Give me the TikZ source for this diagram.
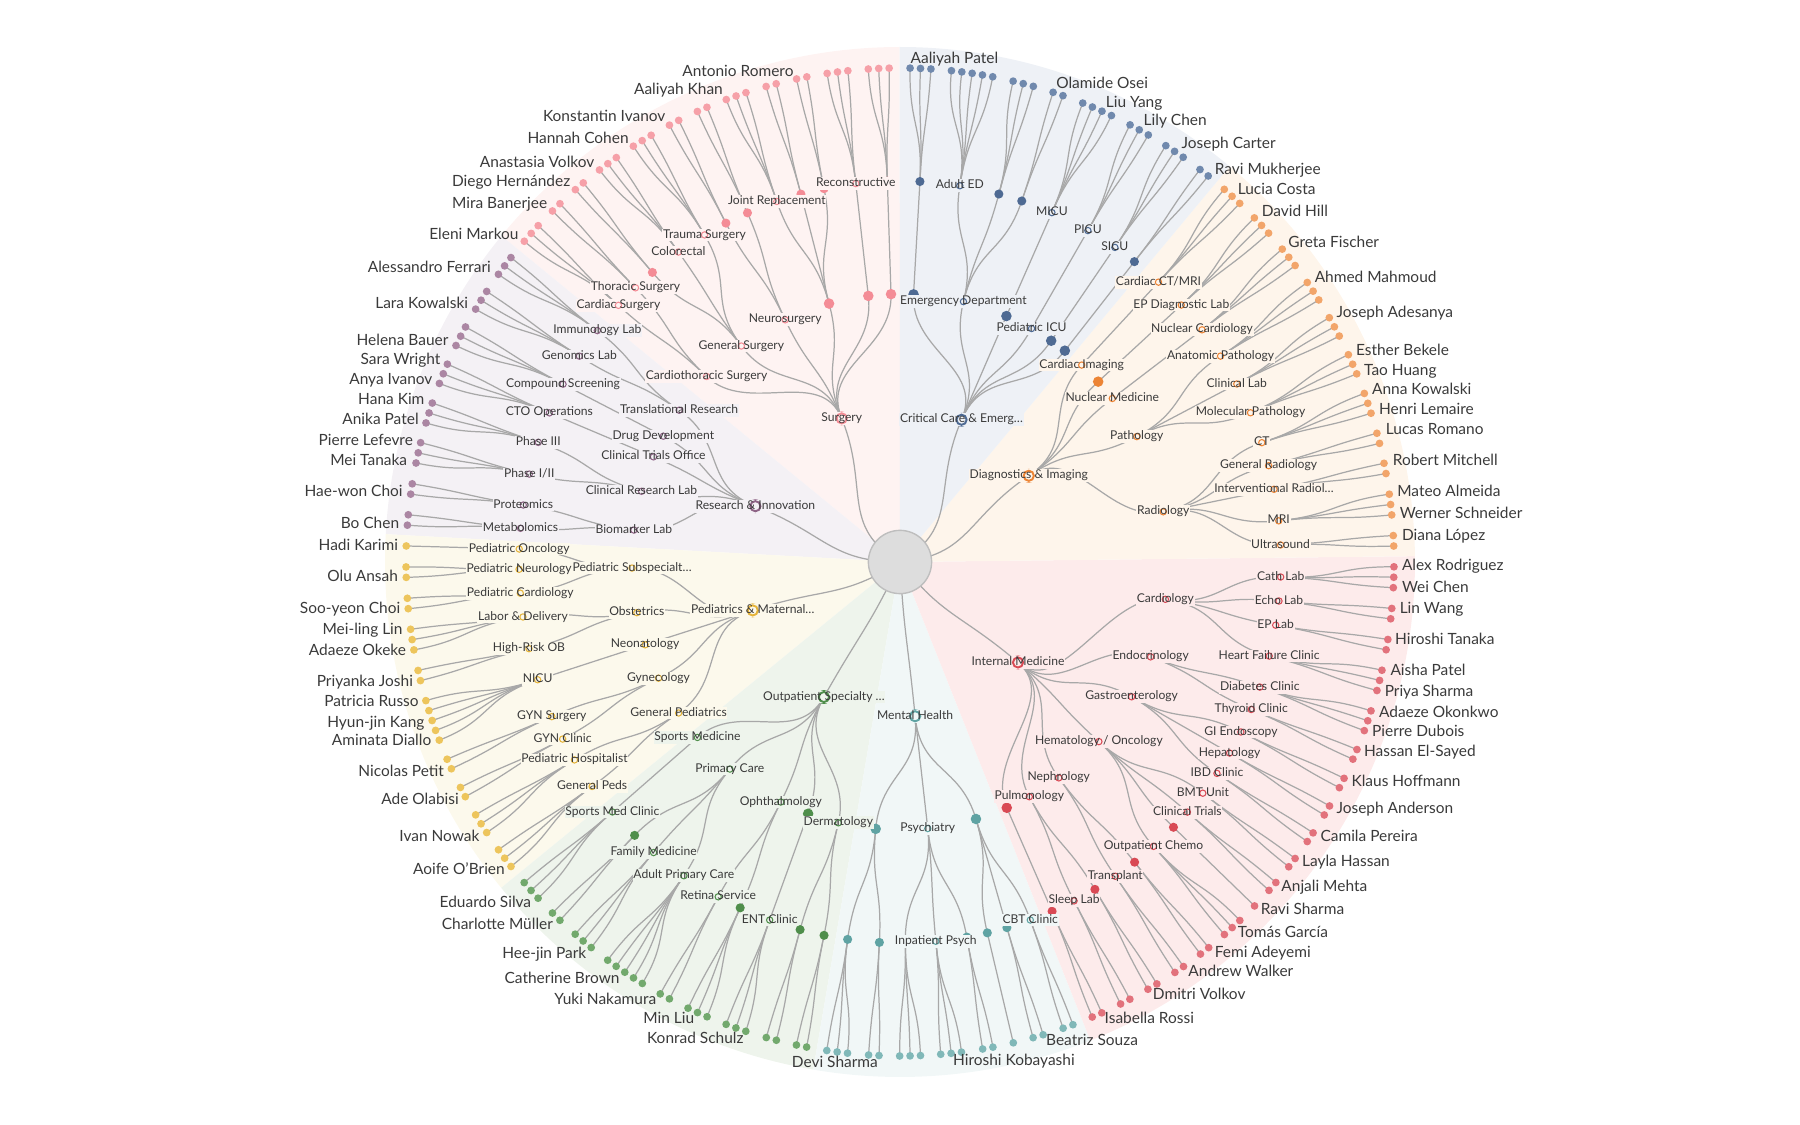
\documentclass[tikz,border=0pt]{standalone}
\usepackage{fontspec}
\setmainfont{Lato}
\usepackage{xcolor}
\usepackage{tikz}
\usetikzlibrary{calc}
\pgfdeclarelayer{wedges}
\pgfdeclarelayer{links}
\pgfsetlayers{wedges,links,main}
\definecolor{linkgray}{RGB}{168,168,168}
\definecolor{txtdark}{RGB}{58,58,58}
\definecolor{rootfill}{RGB}{221,221,221}
\definecolor{rootline}{RGB}{190,190,190}
\definecolor{pinkleaf}{RGB}{246,160,168}
\definecolor{pinkdark}{RGB}{244,140,150}
\definecolor{pinkbg}{RGB}{254,243,242}
\definecolor{blueleaf}{RGB}{112,137,173}
\definecolor{bluedark}{RGB}{78,106,147}
\definecolor{bluebg}{RGB}{238,241,246}
\definecolor{orangeleaf}{RGB}{242,165,106}
\definecolor{orangedark}{RGB}{236,132,53}
\definecolor{orangebg}{RGB}{254,245,235}
\definecolor{redleaf}{RGB}{226,114,124}
\definecolor{reddark}{RGB}{217,74,85}
\definecolor{redbg}{RGB}{253,235,235}
\definecolor{tealleaf}{RGB}{128,184,184}
\definecolor{tealdark}{RGB}{95,163,163}
\definecolor{tealbg}{RGB}{241,247,247}
\definecolor{greenleaf}{RGB}{114,169,109}
\definecolor{greendark}{RGB}{79,142,75}
\definecolor{greenbg}{RGB}{238,244,236}
\definecolor{yellowleaf}{RGB}{237,197,92}
\definecolor{yellowdark}{RGB}{229,180,58}
\definecolor{yellowbg}{RGB}{252,249,236}
\definecolor{purpleleaf}{RGB}{171,134,163}
\definecolor{purpledark}{RGB}{142,100,134}
\definecolor{purplebg}{RGB}{244,241,245}
\tikzset{
  link/.style={draw=linkgray, line width=0.7pt},
  rootdot/.style={circle, fill=rootfill, draw=rootline, line width=0.8pt, minimum size=36pt, inner sep=0pt},
  leaf/.style={circle, fill=sc, inner sep=0pt, minimum size=4.4pt},
  dotthree/.style={circle, fill=scd, inner sep=0pt, minimum size=5.2pt},
  dottwo/.style={circle, fill=scd, inner sep=0pt, minimum size=6pt},
  bigring/.style={circle, draw=scd, fill=white, line width=1.1pt, inner sep=0pt, minimum size=6.8pt},
  unitlbl/.style={fill=sbg, inner sep=0.4pt, text=txtdark, font=\fontsize{6.9}{8}\selectfont, text height=5pt, text depth=1.5pt,
    path picture={\draw[scd, line width=0.6pt] (path picture bounding box.center) circle[radius=1.8pt];}},
  toplbl/.style={unitlbl, path picture={\draw[scd, line width=1.1pt] (path picture bounding box.center) circle[radius=2.9pt];}},
  namelbl/.style={inner sep=0pt, text=txtdark, font=\fontsize{8.8}{10}\selectfont, text height=6.2pt, text depth=0pt}
}
\newcommand{\setsector}[1]{\colorlet{sc}{#1leaf}\colorlet{scd}{#1dark}\colorlet{sbg}{#1bg}}
\newcommand{\radlink}[2]{\draw[link] let \p1=($(#1)-(root)$), \p2=($(#2)-(root)$),
  \n1={veclen(\x1,\y1)}, \n2={veclen(\x2,\y2)}, \n3={scalar((\n1+\n2)/(2*\n1))}, \n4={scalar((\n1+\n2)/(2*\n2))}
  in (#1.center) .. controls ($(root)!\n3!(#1)$) and ($(root)!\n4!(#2)$) .. (#2.center);}
\newcommand{\topnode}[3]{\node[bigring] (#1-r) at (#2:155) {};\node[toplbl] (#1) at (#2:155) {#3};}
\newcommand{\unitnodes}[1]{\foreach \nm/\aa/\rr/\pa/\tx in #1 {\node[unitlbl] (\nm) at (\aa:\rr) {\tx};}}
\newcommand{\dotnodes}[1]{\foreach \nm/\aa/\rr/\pa/\st in #1 {\node[\st] (\nm) at (\aa:\rr) {};}}
\newcommand{\leafnodes}[1]{\foreach \pa/\cc/\kk in #1 {\foreach \jj in {1,...,\kk}{
  \pgfmathsetmacro\ang{\cc+((\kk+1)/2-\jj)*1.21}\node[leaf] (\pa-\jj) at (\ang:494) {};}}}
\newcommand{\unitlinks}[1]{\foreach \nm/\aa/\rr/\pa/\tx in #1 {\radlink{\pa}{\nm}}}
\newcommand{\leaflinks}[1]{\foreach \pa/\cc/\kk in #1 {\foreach \jj in {1,...,\kk}{\radlink{\pa}{\pa-\jj}}}}

% Surgery
\def\surgU{neur/115.36/268/surg/Neurosurgery, gens/126.3/268/surg/General Surgery, ctho/136.2/268/surg/Cardiothoracic Surgery, reco/96.66/381/s2b/Reconstructive, jrep/108.86/381/s2c/Joint Replacement, trau/120.86/381/gens/Trauma Surgery, colo/125.56/381/gens/Colorectal, thor/133.97/381/ctho/Thoracic Surgery, csur/137.65/381/ctho/Cardiac Surgery}
\def\surgD{s2a/91.92/268/surg/dottwo, s2b/96.79/268/surg/dottwo, s2c/105.35/268/surg/dottwo, s3a/91.9/381/s2a/dotthree, s3b/101.5/381/s2c/dotthree, s3c/105.07/381/s2c/dotthree, s3d/113.6/381/neur/dotthree, s3e/117.19/381/neur/dotthree, s3f/130.53/381/gens/dotthree}
\def\surgL{s3a/92.47/3, reco/97.27/3, s3b/101.48/2, s3c/105.12/2, jrep/109.38/3, s3d/113.61/2, s3e/117.22/2, trau/121.46/3, colo/126.26/3, s3f/130.48/2, thor/134.11/2, csur/138.3/3}
% Critical Care & Emergency
\def\critU{edep/76.3/268/crit/Emergency Department, picx/60.6/268/crit/Pediatric ICU, aded/80.96/381/edep/Adult ED, micu/66.5/381/c2b/MICU, picu/60.45/381/picx/PICU, sicu/55.66/381/c2c/SICU}
\def\critD{c2a/87.1/268/crit/dottwo, c2b/66.6/268/crit/dottwo, c2c/55.65/268/crit/dottwo, c2d/52.04/268/crit/dottwo, c3a/87.0/381/c2a/dotthree, c3b/74.96/381/edep/dotthree, c3c/71.36/381/edep/dotthree, c3d/52.03/381/c2d/dotthree}
\def\critL{c3a/87.62/3, aded/81.6/5, c3b/75.55/3, c3c/71.34/2, micu/66.47/4, picu/61.03/3, sicu/56.23/3, c3d/52.0/2}
% Diagnostics & Imaging
\def\diagU{cimg/47.3/268/diag/Cardiac Imaging, nucm/37.6/268/diag/Nuclear Medicine, patho/27.9/268/diag/Pathology, radi/10.8/268/diag/Radiology, cctm/47.27/381/cimg/{Cardiac CT/MRI}, epdl/42.41/381/d2a/EP Diagnostic Lab, nucc/37.55/381/nucm/Nuclear Cardiology, anat/32.71/381/patho/Anatomic Pathology, clab/27.86/381/patho/Clinical Lab, molp/23.06/381/patho/Molecular Pathology, ctsc/18.25/381/radi/CT, genr/14.64/381/radi/General Radiology, intr/11.0/381/radi/Interventional Radiol…, mrin/6.2/381/radi/MRI, ultr/2.56/381/radi/Ultrasound}
\def\diagD{d2a/42.3/268/diag/dottwo}
\def\diagL{cctm/47.76/3, epdl/42.95/3, nucc/38.09/3, anat/33.25/3, clab/28.43/3, molp/23.6/3, ctsc/18.74/3, genr/14.5/2, intr/10.92/2, mrin/6.68/3, ultr/2.46/2}
% Internal Medicine
\def\intmU{card/-8.0/268/intm/Cardiology, endo/-20.73/268/intm/Endocrinology, gast/-30.2/268/intm/Gastroenterology, hemo/-42.08/268/intm/{Hematology / Oncology}, neph/-53.66/268/intm/Nephrology, pulm/-61.15/268/intm/Pulmonology, cath/-2.26/381/card/Cath Lab, echo/-5.88/381/card/Echo Lab, eplb/-9.55/381/card/EP Lab, hfcl/-14.3/381/card/Heart Failure Clinic, diab/-19.17/381/endo/Diabetes Clinic, thyr/-22.78/381/endo/Thyroid Clinic, gien/-26.5/381/gast/GI Endoscopy, hepa/-30.1/381/gast/Hepatology, ibdc/-33.7/381/gast/IBD Clinic, bmtu/-37.36/381/hemo/BMT Unit, cltr/-41.03/381/hemo/Clinical Trials, opch/-48.28/381/hemo/Outpatient Chemo, trpl/-55.58/381/neph/Transplant, slab/-62.81/381/pulm/Sleep Lab}
\def\intmD{i2a/-66.52/268/intm/dottwo, i3a/-44.13/381/hemo/dotthree, i3b/-51.99/381/neph/dotthree, i3c/-59.23/381/pulm/dotthree, i3d/-66.47/381/i2a/dotthree}
\def\intmL{cath/-1.77/3, echo/-6.0/2, eplb/-9.63/2, hfcl/-13.87/3, diab/-18.75/3, thyr/-22.92/2, gien/-26.58/2, hepa/-30.2/2, ibdc/-33.86/2, bmtu/-37.49/2, cltr/-41.06/2, i3a/-44.13/1, opch/-47.74/3, i3b/-51.93/2, trpl/-55.58/2, i3c/-59.27/2, slab/-62.87/2, i3d/-66.49/2}
% Mental Health
\def\mentU{psyc/-84.05/268/ment/Psychiatry, inps/-84.6/381/psyc/Inpatient Psych, cbtc/-70.0/381/m2b/CBT Clinic}
\def\mentD{m2a/-95.2/268/ment/dottwo, m2b/-73.53/268/ment/dottwo, m3a/-97.9/381/m2a/dotthree, m3b/-93.1/381/m2a/dotthree, m3c/-89.2/381/psyc/dotthree, m3d/-79.9/381/psyc/dotthree, m3e/-76.75/381/m2b/dotthree, m3f/-73.7/381/m2b/dotthree}
\def\mentL{m3a/-97.31/3, m3b/-93.04/2, m3c/-88.83/3, inps/-84.06/3, m3d/-79.76/2, m3e/-76.74/1, m3f/-73.76/2, cbtc/-70.11/2}
% Outpatient Specialty
\def\outpU{derm/-103.3/268/outp/Dermatology, opht/-116.4/268/outp/Ophthalmology, prim/-129.4/268/outp/Primary Care, spmd/-139.1/268/outp/Sports Medicine, entc/-110.0/381/o2a/ENT Clinic, reti/-118.5/381/opht/Retina Service, adpc/-124.56/381/prim/Adult Primary Care, fmed/-130.3/381/prim/Family Medicine, smcl/-139.0/381/spmd/Sports Med Clinic}
\def\outpD{o2a/-110.05/268/outp/dottwo, o3a/-101.5/381/derm/dotthree, o3b/-105.2/381/derm/dotthree, o3c/-114.8/381/opht/dotthree, o3d/-134.15/381/prim/dotthree}
\def\outpL{o3a/-101.5/2, o3b/-105.1/2, entc/-109.4/3, o3c/-114.2/3, reti/-118.43/2, adpc/-123.86/5, fmed/-129.9/3, o3d/-134.11/2, smcl/-138.32/3}
% Pediatrics & Maternal
\def\pedsU{psub/181.3/268/peds/Pediatric Subspecialt…, obst/190.9/268/peds/Obstetrics, neon/198.0/268/peds/Neonatology, gyne/205.7/268/peds/Gynecology, gped/214.3/268/peds/General Pediatrics, ponc/178.05/381/psub/Pediatric Oncology, pneu/181.1/381/psub/Pediatric Neurology, pcar/184.7/381/psub/Pediatric Cardiology, labd/188.3/381/obst/Labor \& Delivery, hrob/193.15/381/obst/High-Risk OB, nicu/198.0/381/neon/NICU, gyns/203.95/381/gyne/GYN Surgery, gync/207.7/381/gyne/GYN Clinic, phos/211.3/381/gped/Pediatric Hospitalist, gpds/216.1/381/gped/General Peds}
\def\pedsL{ponc/178.14/1, pneu/181.18/2, pcar/184.82/2, labd/189.04/3, hrob/193.29/2, nicu/198.72/5, gyns/204.14/2, gync/207.76/2, phos/212.0/3, gpds/216.84/3}
% Research & Innovation
\def\rschU{tran/145.5/268/rsch/Translational Research, drug/152.0/268/rsch/Drug Development, ctof/156.9/268/rsch/Clinical Trials Office, crlb/164.7/268/rsch/Clinical Research Lab, bmrk/173.16/268/rsch/Biomarker Lab, imml/142.6/381/tran/Immunology Lab, geno/147.3/381/tran/Genomics Lab, cmps/152.18/381/drug/Compound Screening, ctoo/156.96/381/ctof/CTO Operations, ph3/161.7/381/crlb/Phase III, ph12/166.66/381/crlb/{Phase I/II}, prot/171.4/381/bmrk/Proteomics, meta/174.93/381/bmrk/Metabolomics}
\def\rschL{imml/143.17/3, geno/148.0/3, cmps/152.8/3, ctoo/157.6/3, ph3/162.44/3, ph12/167.23/3, prot/171.5/2, meta/175.12/2}

\begin{document}
\begin{tikzpicture}[x=0.02cm, y=0.02cm]
  \useasboundingbox (-900,-563) rectangle (900,562);

  % Sector backgrounds
  \begin{pgfonlayer}{wedges}
    \fill[pinkbg] (0,0) -- (90.04:515) arc[start angle=90.04, end angle=140.7, radius=515] -- cycle;
    \fill[purplebg] (0,0) -- (140.7:515) arc[start angle=140.7, end angle=176.9, radius=515] -- cycle;
    \fill[yellowbg] (0,0) -- (176.9:515) arc[start angle=176.9, end angle=219.25, radius=515] -- cycle;
    \fill[greenbg] (0,0) -- (219.25:515) arc[start angle=219.25, end angle=260.3, radius=515] -- cycle;
    \fill[tealbg] (0,0) -- (260.3:515) arc[start angle=260.3, end angle=291.7, radius=515] -- cycle;
    \fill[redbg] (0,0) -- (291.7:515) arc[start angle=291.7, end angle=360.65, radius=515] -- cycle;
    \fill[orangebg] (0,0) -- (0.65:515) arc[start angle=0.65, end angle=50.2, radius=515] -- cycle;
    \fill[bluebg] (0,0) -- (50.2:515) arc[start angle=50.2, end angle=90.04, radius=515] -- cycle;
  \end{pgfonlayer}

  % Root
  \node[rootdot] (root) at (0,0) {};

  % Nodes by sector
  \setsector{pink}
  \topnode{surg}{112.1}{Surgery}
  \dotnodes{\surgD} \unitnodes{\surgU} \leafnodes{\surgL}
  \setsector{blue}
  \topnode{crit}{66.6}{Critical Care \& Emerg…}
  \dotnodes{\critD} \unitnodes{\critU} \leafnodes{\critL}
  \setsector{orange}
  \topnode{diag}{33.8}{Diagnostics \& Imaging}
  \dotnodes{\diagD} \unitnodes{\diagU} \leafnodes{\diagL}
  \setsector{red}
  \topnode{intm}{-40.4}{Internal Medicine}
  \dotnodes{\intmD} \unitnodes{\intmU} \leafnodes{\intmL}
  \setsector{teal}
  \topnode{ment}{-84.4}{Mental Health}
  \dotnodes{\mentD} \unitnodes{\mentU} \leafnodes{\mentL}
  \setsector{green}
  \topnode{outp}{-119.4}{Outpatient Specialty …}
  \dotnodes{\outpD} \unitnodes{\outpU} \leafnodes{\outpL}
  \setsector{yellow}
  \topnode{peds}{198.2}{Pediatrics \& Maternal…}
  \unitnodes{\pedsU} \leafnodes{\pedsL}
  \setsector{purple}
  \topnode{rsch}{158.9}{Research \& Innovation}
  \unitnodes{\rschU} \leafnodes{\rschL}

  % Links
  \begin{pgfonlayer}{links}
    \foreach \nm/\ex/\th in {surg/150/112.1, crit/30/66.6, diag/5/33.8, intm/-52/-40.4, ment/-87/-84.4, outp/-115/-119.4, peds/212/198.2, rsch/180/158.9}
      {\draw[link] (root.center) .. controls (\ex:70) and (\th:80) .. (\nm.center);}
    \unitlinks{\surgD} \unitlinks{\surgU} \leaflinks{\surgL}
    \unitlinks{\critD} \unitlinks{\critU} \leaflinks{\critL}
    \unitlinks{\diagD} \unitlinks{\diagU} \leaflinks{\diagL}
    \unitlinks{\intmD} \unitlinks{\intmU} \leaflinks{\intmL}
    \unitlinks{\mentD} \unitlinks{\mentU} \leaflinks{\mentL}
    \unitlinks{\outpD} \unitlinks{\outpU} \leaflinks{\outpL}
    \unitlinks{\pedsU} \leaflinks{\pedsL}
    \unitlinks{\rschU} \leaflinks{\rschL}
  \end{pgfonlayer}

  % Names, right half
  \foreach \x/\y/\tx [count=\jj] in {10.3/503.5/Aaliyah Patel, 156/479.3/Olamide Osei, 205.5/459.8/Liu Yang, 243.4/441.5/Lily Chen, 281.3/418.5/Joseph Carter, 314.5/393.2/Ravi Mukherjee, 337.5/372.6/Lucia Costa, 361.5/350.8/David Hill, 388/319.8/Greta Fischer, 414.4/285.3/Ahmed Mahmoud, 436.2/249.8/Joseph Adesanya, 455.7/211.9/Esther Bekele, 463.8/192.4/Tao Huang, 471.8/172.8/Anna Kowalski, 478.7/153.3/Henri Lemaire, 485.6/132.7/Lucas Romano, 492.5/101.7/Robert Mitchell, 497/70.7/Mateo Almeida, 499.4/48.9/Werner Schneider, 501.7/27/Diana López, 501.7/-2.8/Alex Rodriguez, 501.7/-24.6/Wei Chen, 499.4/-46.4/Lin Wang, 494.8/-77.4/Hiroshi Tanaka, 490.2/-108.4/Aisha Patel, 484.4/-129.1/Priya Sharma, 478.7/-149.7/Adaeze Okonkwo, 471.8/-169.2/Pierre Dubois, 463.8/-188.8/Hassan El-Sayed, 451.2/-218.6/Klaus Hoffmann, 436.2/-246.2/Joseph Anderson, 420.2/-273.7/Camila Pereira, 401.8/-299/Layla Hassan, 381.1/-324.2/Anjali Mehta, 360.5/-347.2/Ravi Sharma, 337.5/-370.1/Tomás García, 314.5/-389.7/Femi Adeyemi, 288.1/-409.2/Andrew Walker, 252.6/-432.1/Dmitri Volkov, 204.4/-456.2/Isabella Rossi, 145.8/-478/Beatriz Souza, 52.8/-497.6/Hiroshi Kobayashi}
    \node[namelbl, anchor=west] (nr\jj) at (\x,\y) {\tx};

  % Names, left half
  \foreach \x/\y/\tx [count=\jj] in {-21.8/-499.9/Devi Sharma, -156.1/-475.8/Konrad Schulz, -205.5/-456.2/Min Liu, -243.4/-436.7/Yuki Nakamura, -280.1/-416.1/Catherine Brown, -313.4/-390.8/Hee-jin Park, -346.7/-362.1/Charlotte Müller, -368.5/-340.3/Eduardo Silva, -394.9/-307/Aoife O'Brien, -420.2/-273.7/Ivan Nowak, -440.8/-237/Ade Olabisi, -455.7/-209.4/Nicolas Petit, -468.4/-178.4/Aminata Diallo, -475.2/-160.1/Hyun-jin Kang, -481/-139.4/Patricia Russo, -486.7/-118.7/Priyanka Joshi, -493.6/-87.8/Adaeze Okeke, -497.1/-67.1/Mei-ling Lin, -499.4/-46.4/Soo-yeon Choi, -501.7/-14.3/Olu Ansah, -501.7/16.7/Hadi Karimi, -500.5/38.5/Bo Chen, -497/70.7/Hae-won Choi, -492.5/101.7/Mei Tanaka, -486.7/122.3/Pierre Lefevre, -481/143/Anika Patel, -475.2/162.5/Hana Kim, -467.2/183.2/Anya Ivanov, -459.2/202.7/Sara Wright, -451.2/222.2/Helena Bauer, -431.6/259/Lara Kowalski, -408.7/294.5/Alessandro Ferrari, -381.1/327.8/Eleni Markou, -352.4/358.8/Mira Banerjee, -329.4/380.6/Diego Hernández, -305.3/400.1/Anastasia Volkov, -271/424.2/Hannah Cohen, -234.2/446/Konstantin Ivanov, -176.8/472.5/Aaliyah Khan, -106.1/491.3/Antonio Romero}
    \node[namelbl, anchor=east] (nl\jj) at (\x,\y) {\tx};
\end{tikzpicture}
\end{document}
